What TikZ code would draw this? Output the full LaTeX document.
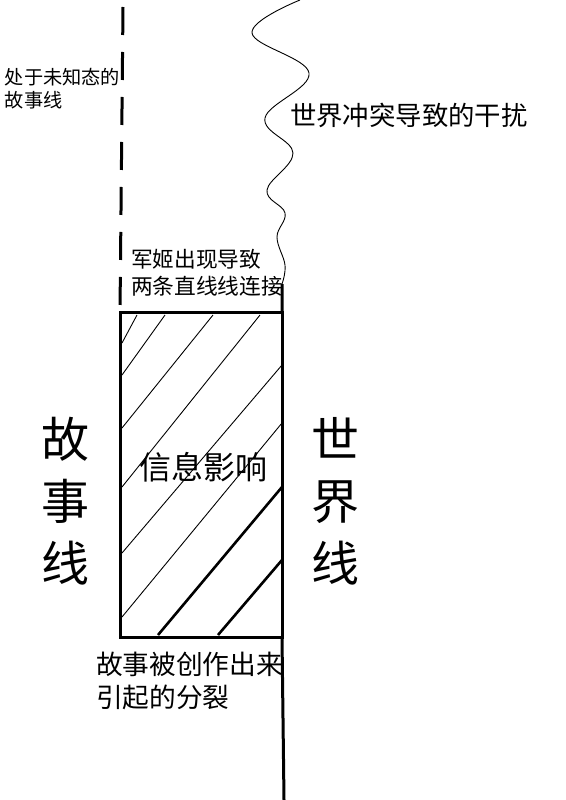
\documentclass[tikz,border=0pt]{standalone}
\usepackage{fontspec}
\newfontfamily\cjk{Noto Sans CJK SC}
\usetikzlibrary{calc}

\begin{document}
\begin{tikzpicture}[x=1pt, y=-1pt, every node/.style={inner sep=0pt, outer sep=0pt, font=\cjk}]
\useasboundingbox (0,0) rectangle (565,800);
%the box where the two lines meet
\node[draw, line width=3pt, minimum width=162pt, minimum height=325pt, anchor=north west] (info) at (120,312) {};
%storyline, still unknown
\draw[line width=3pt, dash pattern=on 28pt off 17pt] (123,7) -- (info.north west);
%worldline
\coordinate (wtop) at (282,284);
\coordinate (wend) at (284,800);
\draw[line width=3pt] (wtop) -- (info.north east) (info.south east) -- (wend);
%interference from the world conflict
\draw[line width=0.9pt] plot[smooth, tension=0.65] coordinates {(300,0) (252,33) (309,73) (265,118) (293,153) (267,190) (285,213) (277,237) (285,265) (wtop)};
%hatching
\foreach \xa/\ya/\xb/\yb in {122/343/137/315, 122/375/165/315, 122/428/213/315, 122/487/260/315, 122/553/282/365, 122/617/282/423}
  \draw[line width=0.9pt] (\xa,\ya) -- (\xb,\yb);
\foreach \xa/\ya/\xb/\yb in {158/635/282/487, 218/635/282/560}
  \draw[line width=2.6pt] (\xa,\ya) -- (\xb,\yb);

%labels
\node[align=left, anchor=west, font=\cjk\fontsize{19.2}{23}\selectfont] (unknown) at (5,89) {处于未知态的\\故事线};
\node[anchor=west, font=\cjk\fontsize{26.4}{30}\selectfont] (conflict) at (290,115) {世界冲突导致的干扰};
\node[align=left, anchor=west, font=\cjk\fontsize{21.7}{27}\selectfont] (meet) at (131,273) {军姬出现导致\\两条直线线连接};
\node[font=\cjk\fontsize{32}{32}\selectfont] (infl) at ($(info.center)+(2,-7)$) {信息影响};
\node[align=center, font=\cjk\fontsize{48}{62}\selectfont] (story) at (65,501) {故\\事\\线};
\node[align=center, font=\cjk\fontsize{48}{62}\selectfont] (world) at (335,501) {世\\界\\线};
\node[align=left, anchor=west, font=\cjk\fontsize{26.7}{33}\selectfont] (split) at (96,681) {故事被创作出来\\引起的分裂};
\end{tikzpicture}
\end{document}
